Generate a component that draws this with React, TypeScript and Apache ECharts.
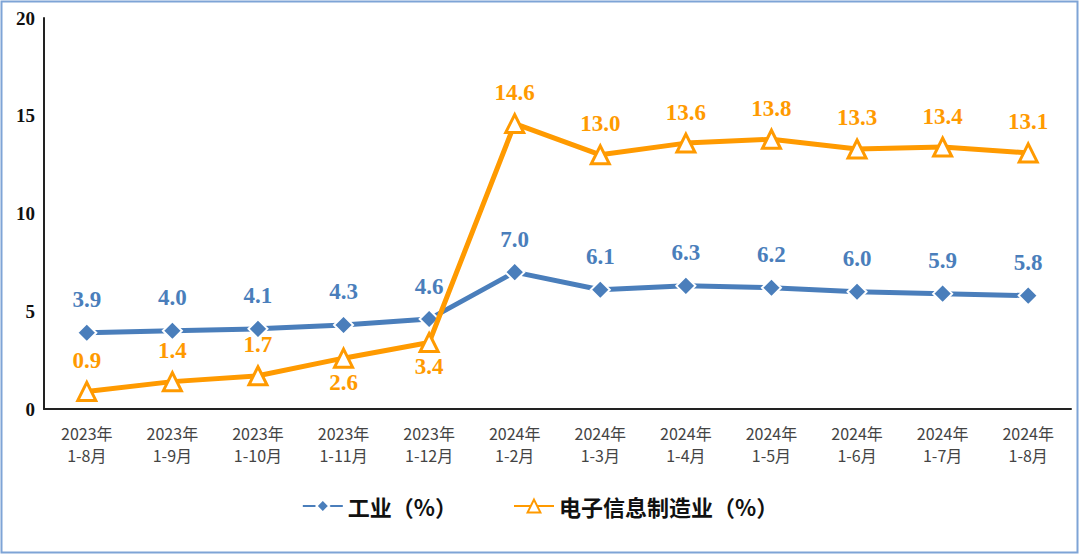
import React, { useEffect, useRef } from "react";
import * as echarts from "echarts";

const categories = [
  "2023年\n1-8月", "2023年\n1-9月", "2023年\n1-10月", "2023年\n1-11月", "2023年\n1-12月",
  "2024年\n1-2月", "2024年\n1-3月", "2024年\n1-4月", "2024年\n1-5月", "2024年\n1-6月",
  "2024年\n1-7月", "2024年\n1-8月",
];
const industry = [3.9, 4.0, 4.1, 4.3, 4.6, 7.0, 6.1, 6.3, 6.2, 6.0, 5.9, 5.8];
const electronics = [0.9, 1.4, 1.7, 2.6, 3.4, 14.6, 13.0, 13.6, 13.8, 13.3, 13.4, 13.1];
const electronicsLabelBelow = [3, 4];

const BLUE = "#4a7ebb";
const ORANGE = "#ff9a00";

export default function App() {
  const ref = useRef<HTMLDivElement>(null);
  useEffect(() => {
    if (!ref.current) return;
    const chart = echarts.init(ref.current, null, { renderer: "svg" });
    const valueFont = { fontFamily: "Liberation Serif", fontWeight: "bold" as const, fontSize: 23 };
    chart.setOption({
      animation: false,
      backgroundColor: "#ffffff",
      graphic: [
        {
          type: "rect",
          shape: { x: 1.5, y: 1.5, width: 1076, height: 551 },
          style: { fill: "none", stroke: "#7ea4d6", lineWidth: 2 },
          silent: true,
        },
      ],
      grid: { left: 44, top: 18, right: 9, bottom: 146 },
      legend: {
        bottom: 33,
        left: "center",
        itemWidth: 40,
        itemHeight: 16,
        itemGap: 56,
        textStyle: { fontFamily: "Noto Sans CJK SC", fontWeight: "bold", fontSize: 22, color: "#111" },
        data: ["工业（%）", "电子信息制造业（%）"],
      },
      xAxis: {
        type: "category",
        data: categories,
        boundaryGap: true,
        axisLine: { lineStyle: { color: "#222", width: 2 } },
        axisTick: { show: false },
        axisLabel: {
          fontFamily: "Noto Sans CJK SC",
          fontSize: 16,
          color: "#444",
          lineHeight: 22,
          margin: 13,
          interval: 0,
        },
      },
      yAxis: {
        type: "value",
        min: 0,
        max: 20,
        interval: 5,
        axisLine: { show: true, lineStyle: { color: "#222", width: 2 } },
        axisTick: { show: false },
        splitLine: { show: false },
        axisLabel: {
          fontFamily: "Liberation Serif",
          fontWeight: "bold",
          fontSize: 19,
          color: "#111",
          margin: 9,
        },
      },
      series: [
        {
          name: "工业（%）",
          type: "line",
          data: industry,
          symbol: "diamond",
          symbolSize: 19,
          lineStyle: { color: BLUE, width: 5 },
          itemStyle: { color: BLUE, borderColor: "#ffffff", borderWidth: 2 },
          label: { show: true, position: "top", distance: 11, color: BLUE, formatter: (p: any) => p.value.toFixed(1), ...valueFont },
          z: 2,
        },
        {
          name: "电子信息制造业（%）",
          type: "line",
          data: electronics.map((v, i) => ({
            value: v,
            label: electronicsLabelBelow.includes(i) ? { position: "bottom", distance: 2 } : undefined,
          })),
          symbol: "triangle",
          symbolSize: 18,
          lineStyle: { color: ORANGE, width: 5 },
          itemStyle: { color: "#ffffff", borderColor: ORANGE, borderWidth: 3 },
          label: { show: true, position: "top", distance: 9, color: ORANGE, formatter: (p: any) => Number(p.value).toFixed(1), ...valueFont },
          z: 3,
        },
      ],
    });
    return () => chart.dispose();
  }, []);
  return <div ref={ref} style={{ position: "absolute", left: 0, top: 0, width: 1080, height: 555 }} />;
}
